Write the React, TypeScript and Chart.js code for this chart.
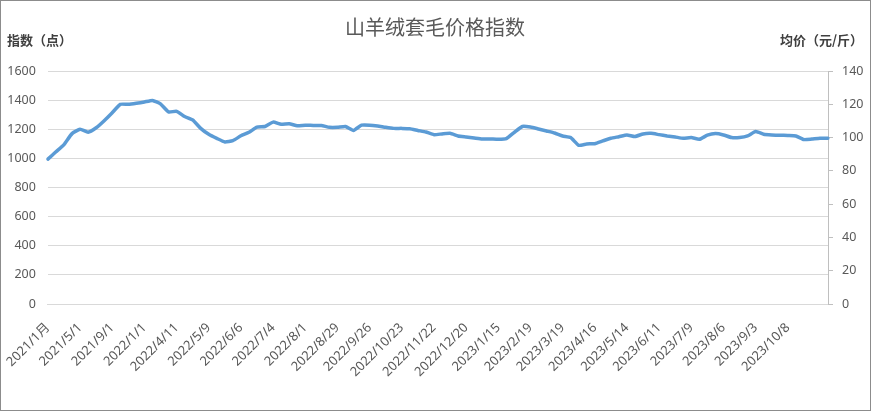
import { useEffect, useRef } from "react"
import { Chart, registerables, type ChartConfiguration, type Plugin } from "chart.js"

Chart.register(...registerables)

// Chart texts
const chartTitle = "山羊绒套毛价格指数"
const leftAxisTitle = "指数（点）"
const rightAxisTitle = "均价（元/斤）"

// One label every 4 categories
const tickLabels = [
  "2021/1月", "2021/5/1", "2021/9/1", "2022/1/1", "2022/4/11", "2022/5/9",
  "2022/6/6", "2022/7/4", "2022/8/1", "2022/8/29", "2022/9/26", "2022/10/23",
  "2022/11/22", "2022/12/20", "2023/1/15", "2023/2/19", "2023/3/19", "2023/4/16",
  "2023/5/14", "2023/6/11", "2023/7/9", "2023/8/6", "2023/9/3", "2023/10/8",
]

// Index values (点)
const indexValues = [
  995, 1045, 1095, 1170, 1200, 1180, 1210, 1259, 1314, 1371,
  1371, 1378, 1387, 1398, 1374, 1319, 1323, 1287, 1264, 1206,
  1165, 1137, 1113, 1122, 1155, 1179, 1215, 1219, 1249, 1234,
  1238, 1224, 1228, 1226, 1226, 1213, 1213, 1219, 1192, 1228,
  1228, 1222, 1213, 1206, 1206, 1204, 1192, 1181, 1163, 1168,
  1172, 1154, 1147, 1140, 1133, 1133, 1131, 1136, 1179, 1219,
  1215, 1202, 1188, 1174, 1154, 1143, 1090, 1099, 1101, 1120,
  1138, 1149, 1161, 1150, 1168, 1172, 1163, 1154, 1147, 1138,
  1143, 1131, 1159, 1170, 1161, 1143, 1143, 1154, 1184, 1166,
  1161, 1159, 1157, 1154, 1129, 1133, 1138, 1138,
]

const categories = indexValues.map((_, i) => (i % 4 === 0 ? tickLabels[i / 4] ?? "" : ""))

const FONT = "'Noto Sans', 'Noto Sans CJK SC', sans-serif"
const CJK = "'Noto Sans CJK SC', sans-serif"

const textPlugin: Plugin = {
  id: "texts",
  afterDraw: (chart) => {
    const ctx = chart.ctx
    ctx.save()
    ctx.fillStyle = "#595959"
    ctx.font = `20px ${CJK}`
    ctx.textAlign = "center"
    ctx.textBaseline = "middle"
    ctx.fillText(chartTitle, 434, 26)

    ctx.fillStyle = "#404040"
    ctx.font = `bold 13px ${CJK}`
    ctx.textAlign = "left"
    ctx.fillText(leftAxisTitle, 6, 39)
    ctx.textAlign = "right"
    ctx.fillText(rightAxisTitle, 862, 39)
    ctx.restore()
  },
}

export default function App() {
  const chartRef = useRef<HTMLCanvasElement>(null)
  const chartInstance = useRef<Chart | null>(null)

  useEffect(() => {
    document.body.style.margin = "0"
    if (!chartRef.current) return
    if (chartInstance.current) chartInstance.current.destroy()

    const config: ChartConfiguration = {
      type: "line",
      data: {
        labels: categories,
        datasets: [
          {
            label: "指数",
            data: indexValues,
            borderColor: "#5B9BD5",
            borderWidth: 3.5,
            pointRadius: 0,
            tension: 0.15,
            borderJoinStyle: "round",
            borderCapStyle: "round",
            yAxisID: "y",
          },
        ],
      },
      options: {
        animation: false,
        responsive: true,
        maintainAspectRatio: false,
        layout: { padding: { top: 70, bottom: 18, left: 0, right: 0 } },
        plugins: {
          legend: { display: false },
          title: { display: false },
          tooltip: { enabled: false },
        },
        scales: {
          x: {
            offset: false,
            grid: { display: false },
            border: { display: true, color: "#d9d9d9" },
            afterFit: (scale) => {
              scale.height = 88
            },
            ticks: {
              autoSkip: false,
              maxRotation: 45,
              minRotation: 45,
              color: "#595959",
              font: { family: FONT, size: 13 },
              padding: 8,
            },
          },
          y: {
            position: "left",
            min: 0,
            max: 1600,
            afterFit: (scale) => {
              scale.width = 44
            },
            ticks: {
              stepSize: 200,
              color: "#595959",
              font: { family: FONT, size: 12.5 },
              padding: 12,
              callback: (v) => String(v),
            },
            grid: { color: "#d9d9d9", drawTicks: false },
            border: { display: false },
          },
          y1: {
            position: "right",
            min: 0,
            max: 140,
            afterFit: (scale) => {
              scale.width = 42
            },
            ticks: {
              stepSize: 20,
              color: "#595959",
              font: { family: FONT, size: 12.5 },
              padding: 9,
              callback: (v) => String(v),
            },
            grid: { drawOnChartArea: false, color: "#bfbfbf", tickLength: 5 },
            border: { display: true, color: "#bfbfbf" },
          },
        },
      },
      plugins: [textPlugin],
    }

    chartInstance.current = new Chart(chartRef.current, config)

    return () => {
      if (chartInstance.current) {
        chartInstance.current.destroy()
        chartInstance.current = null
      }
    }
  }, [])

  return (
    <div
      style={{
        width: 871,
        height: 411,
        boxSizing: "border-box",
        border: "1px solid #8c8c8c",
        background: "#fff",
      }}
    >
      <div style={{ position: "relative", width: 869, height: 409 }}>
        <canvas ref={chartRef}></canvas>
      </div>
    </div>
  )
}
